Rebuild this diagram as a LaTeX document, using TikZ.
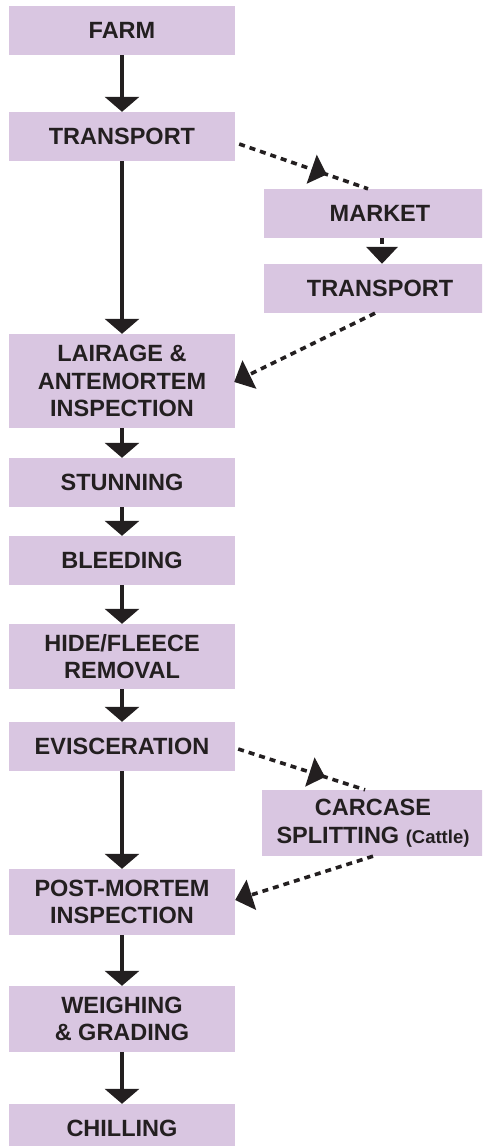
\documentclass[tikz,border=0pt]{standalone}
\usepackage{fontspec}
\setmainfont{Liberation Sans}
\usetikzlibrary{arrows.meta,calc,decorations.markings}
\definecolor{boxfill}{RGB}{217,198,225}
\definecolor{ink}{RGB}{35,31,32}
\tikzset{
  stepbox/.style={fill=boxfill, inner sep=0pt, text=ink, align=center,
    font=\fontsize{23.5}{27.5}\selectfont\bfseries, anchor=center},
  mainbox/.style={stepbox, minimum width=226pt},
  solidarrow/.style={draw=ink, line width=4pt, -{Triangle[width=34pt,length=15pt]}},
  dasharrow/.style={draw=ink, line width=3.6pt, dash pattern=on 6pt off 5pt},
  midarrow/.style={postaction={decorate}, decoration={markings,
    mark=at position #1 with {\arrow[ink]{Triangle[width=30pt,length=16pt]}}}},
  endarrow/.style={-{Triangle[width=31pt,length=17pt]}}
}
\begin{document}
\begin{tikzpicture}[x=1pt,y=-1pt]
\useasboundingbox (0,0) rectangle (482,1146);
\clip (0,0) rectangle (482,1146);
\node[mainbox, minimum height=49pt] (farm) at (122,30.5) {FARM};
\node[mainbox, minimum height=49pt] (t1) at (122,136.5) {TRANSPORT};
\node[stepbox, minimum width=232pt, minimum height=49pt] (market) at (380,213.5) {MARKET};
\node[stepbox, minimum width=232pt, minimum height=49pt] (t2) at (380,288.5) {TRANSPORT};
\node[mainbox, minimum height=94pt] (lair) at (122,381) {LAIRAGE \&\\ANTEMORTEM\\INSPECTION};
\node[mainbox, minimum height=49pt] (stun) at (122,482.5) {STUNNING};
\node[mainbox, minimum height=49pt] (bleed) at (122,560.5) {BLEEDING};
\node[mainbox, minimum height=65pt] (hide) at (122,656.5) {HIDE/FLEECE\\REMOVAL};
\node[mainbox, minimum height=49pt] (evis) at (122,746.5) {EVISCERATION};
\node[stepbox, minimum width=222pt, minimum height=66pt] (carc) at (373,823) {CARCASE\\SPLITTING {\fontsize{18.5}{20}\selectfont(Cattle)}};
\node[mainbox, minimum height=66pt] (pm) at (122,902) {POST-MORTEM\\INSPECTION};
\node[mainbox, minimum height=66pt] (weigh) at (122,1019) {WEIGHING\\\& GRADING};
\node[mainbox, minimum height=49pt] (chill) at (122,1128.5) {CHILLING};

\draw[solidarrow] (farm.south) -- (t1.north);
\draw[solidarrow] (t1.south) -- (lair.north);
\draw[solidarrow] (lair.south) -- (stun.north);
\draw[solidarrow] (stun.south) -- (bleed.north);
\draw[solidarrow] (bleed.south) -- (hide.north);
\draw[solidarrow] (hide.south) -- (evis.north);
\draw[solidarrow] (evis.south) -- (pm.north);
\draw[solidarrow] (pm.south) -- (weigh.north);
\draw[solidarrow] (weigh.south) -- (chill.north);

\draw[dasharrow, midarrow=0.68] ($(t1.east)+(4,7.5)$) -- ($(market.north)+(-12,0)$);
\draw[dasharrow, endarrow] ($(market.south)+(2,0)$) -- ($(t2.north)+(2,0)$);
\draw[dasharrow, endarrow] ($(t2.south)+(-5,0)$) -- ($(lair.east)+(-1,1)$);
\draw[dasharrow, midarrow=0.685] ($(evis.east)+(3,2.5)$) -- ($(carc.north)+(-8,0)$);
\draw[dasharrow, endarrow] (carc.south) -- ($(pm.east)+(0,-2)$);
\end{tikzpicture}
\end{document}
